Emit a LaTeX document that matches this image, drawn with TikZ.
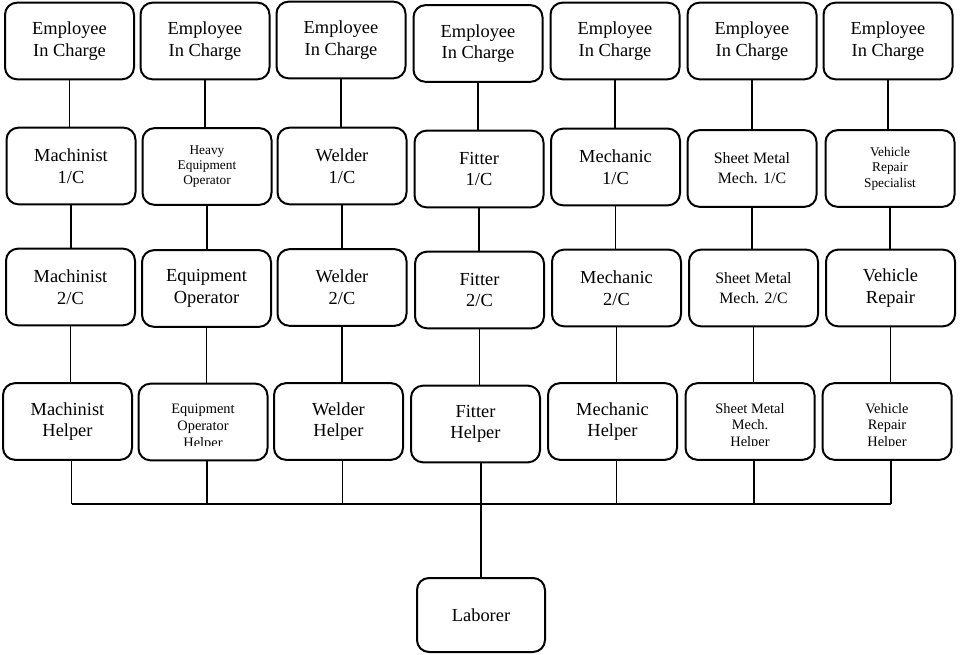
\documentclass[tikz,border=0pt]{standalone}
\usepackage{fontspec}
\setmainfont{Liberation Serif}
\begin{document}
\begin{tikzpicture}[x=0.75pt,y=-0.75pt,
  box/.style={draw, line width=1.5pt, rounded corners=9pt, minimum width=96.75pt, minimum height=57.5pt, inner sep=0pt, align=center},
  big/.style={font=\fontsize{13.8}{16.3}\selectfont},
  mid/.style={font=\fontsize{11.9}{15}\selectfont},
  sml/.style={font=\fontsize{10}{11.5}\selectfont},
  hlp/.style={font=\fontsize{10.8}{12.6}\selectfont},
  txt/.style={inner sep=0pt, align=center},
  wire/.style={line width=0.8pt}]
\useasboundingbox (0,0) rectangle (960,655);
% row 1
\node[box,big] (e1) at (69.5,41) {Employee\\In Charge};
\node[box,big] (e2) at (205,41) {Employee\\In Charge};
\node[box,big] (e3) at (341,40) {Employee\\In Charge};
\node[box,big] (e4) at (478,43.5) {Employee\\In Charge};
\node[box,big] (e5) at (615,41) {Employee\\In Charge};
\node[box,big] (e6) at (752,41) {Employee\\In Charge};
\node[box,big] (e7) at (888,41) {Employee\\In Charge};
% row 2
\node[box,big] (a1) at (71,166) {Machinist\\1/C};
\node[box,sml] (a2) at (207,166.5) {Heavy\\Equipment\\Operator};
\node[box,big] (a3) at (342,166) {Welder\\1/C};
\node[box,big] (a4) at (479,169) {Fitter\\1/C};
\node[box,big] (a5) at (615.5,167) {Mechanic\\1/C};
\node[box,mid] (a6) at (752,168.5) {Sheet Metal\\Mech. 1/C};
\node[box,sml] (a7) at (890,168.5) {Vehicle\\Repair\\Specialist};
% row 3
\node[box,big] (b1) at (70.5,287) {Machinist\\2/C};
\node[box,big] (b2) at (206.5,288.5) {Equipment\\Operator};
\node[box,big] (b3) at (342,287.5) {Welder\\2/C};
\node[box,big] (b4) at (479.5,290) {Fitter\\2/C};
\node[box,big] (b5) at (616.5,288) {Mechanic\\2/C};
\node[box,mid] (b6) at (753.5,288) {Sheet Metal\\Mech. 2/C};
\node[box,big] (b7) at (890.5,288) {Vehicle\\Repair};
% row 4
\node[box,big] (h1) at (67.5,421.5) {Machinist\\Helper};
\node[box] (h2) at (203,422) {};
\node[box,big] (h3) at (338.5,421.5) {Welder\\Helper};
\node[box,big] (h4) at (475.5,424) {Fitter\\Helper};
\node[box,big] (h5) at (612.5,421.5) {Mechanic\\Helper};
\node[box] (h6) at (750,421.5) {};
\node[box] (h7) at (887,421.5) {};
\begin{scope}
  \clip (0,380) rectangle (960,445.5);
  \node[txt,hlp] (h2t) at ([yshift=-3.75pt]h2.center) {Equipment\\Operator\\Helper};
  \node[txt,hlp] (h6t) at ([yshift=-3.75pt]h6.center) {Sheet Metal\\Mech.\\Helper};
  \node[txt,hlp] (h7t) at ([yshift=-3.75pt]h7.center) {Vehicle\\Repair\\Helper};
\end{scope}
% laborer
\node[box,big, minimum width=96pt, minimum height=55.5pt] (lab) at (481,615) {Laborer};
% connectors
\foreach \i in {1,...,7}{
  \draw[wire] (e\i.south) -- (e\i.south |- a\i.north);
  \draw[wire] (a\i.south) -- (a\i.south |- b\i.north);
  \draw[wire] (b\i.south) -- (b\i.south |- h\i.north);
}
\coordinate (bus) at (0,504);
\foreach \i in {1,2,3,5,6,7}{
  \draw[wire] ([xshift=3pt]h\i.south) -- ([xshift=3pt]h\i.south |- bus);
}
\draw[wire] ([xshift=3pt]h1.south |- bus) -- ([xshift=3pt]h7.south |- bus);
\draw[wire] (lab.north) -- (lab.north |- h4.south);
\end{tikzpicture}
\end{document}
